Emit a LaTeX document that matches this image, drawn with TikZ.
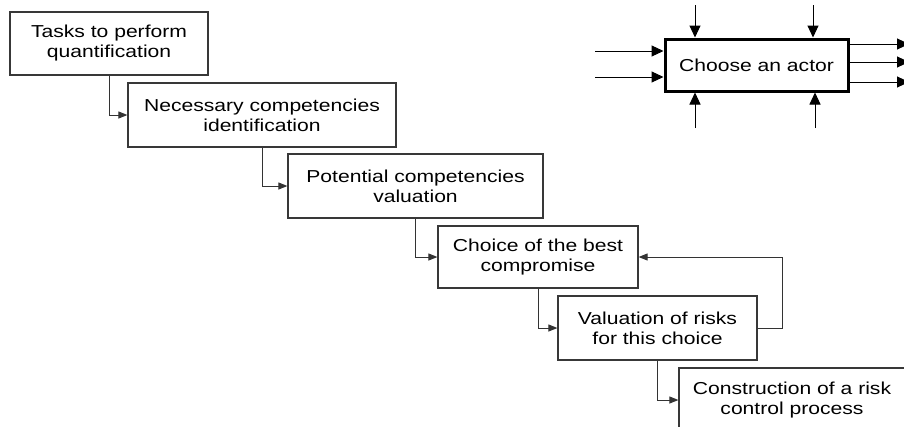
\documentclass[tikz,border=0pt]{standalone}
\usepackage{fontspec}
\setmainfont[FakeStretch=1.22]{Liberation Sans}
\usetikzlibrary{arrows.meta,calc}
\begin{document}
\begin{tikzpicture}[x=1pt,y=-1pt,
  stepbox/.style={draw=black!78,line width=1.2pt,fill=white,align=center,inner sep=0pt,
    font=\fontsize{17.3}{20}\selectfont},
  link/.style={draw=black!80,line width=1pt,-{Triangle[length=9pt,width=7pt]}},
  icom/.style={draw=black,line width=1pt,-{Triangle[length=12pt,width=11pt]}}]
\useasboundingbox (0,0) rectangle (904,426);
\clip (0,0) rectangle (904,426);
\fill[white] (0,0) rectangle (904,426);
\node[stepbox,minimum width=198pt,minimum height=63pt] (b1) at (109,43.5) {Tasks to perform\\quantification};
\node[stepbox,minimum width=268pt,minimum height=64pt] (b2) at (262,115) {Necessary competencies\\identification};
\node[stepbox,minimum width=255pt,minimum height=64pt] (b3) at (415.5,186) {Potential competencies\\valuation};
\node[stepbox,minimum width=200pt,minimum height=62pt] (b4) at (538,257) {Choice of the best\\compromise};
\node[stepbox,minimum width=199pt,minimum height=64pt] (b5) at (657.5,328) {Valuation of risks\\for this choice};
\node[stepbox,minimum width=226pt,minimum height=64pt] (b6) at (792,400) {Construction of a risk\\control process};
\draw[link] (b1.south) |- (b2.west);
\draw[link] (b2.south) |- (b3.west);
\draw[link] (b3.south) |- (b4.west);
\draw[link] (b4.south) |- (b5.west);
\draw[link] (b5.south) |- (b6.west);
\draw[link] (b5.east) -- ++(25,0) |- (b4.east);
% actor box
\node[draw=black,line width=3pt,minimum width=183pt,minimum height=52pt,inner sep=0pt,
  font=\fontsize{17.3}{20}\selectfont] (actor) at (756.5,65) {Choose an actor};
\coordinate (t1) at (695,5);
\coordinate (t2) at (813,5);
\coordinate (u1) at (695,128);
\coordinate (u2) at (815,128);
\coordinate (l1) at (595,51);
\coordinate (l2) at (595,77);
\coordinate (r1) at (909,44);
\coordinate (r2) at (909,62);
\coordinate (r3) at (909,82);
\draw[icom] (t1) -- (t1 |- actor.north);
\draw[icom] (t2) -- (t2 |- actor.north);
\draw[icom] (u1) -- (u1 |- actor.south);
\draw[icom] (u2) -- (u2 |- actor.south);
\draw[icom] (l1) -- (l1 -| actor.west);
\draw[icom] (l2) -- (l2 -| actor.west);
\draw[icom] (r1 -| actor.east) -- (r1);
\draw[icom] (r2 -| actor.east) -- (r2);
\draw[icom] (r3 -| actor.east) -- (r3);
\end{tikzpicture}
\end{document}
